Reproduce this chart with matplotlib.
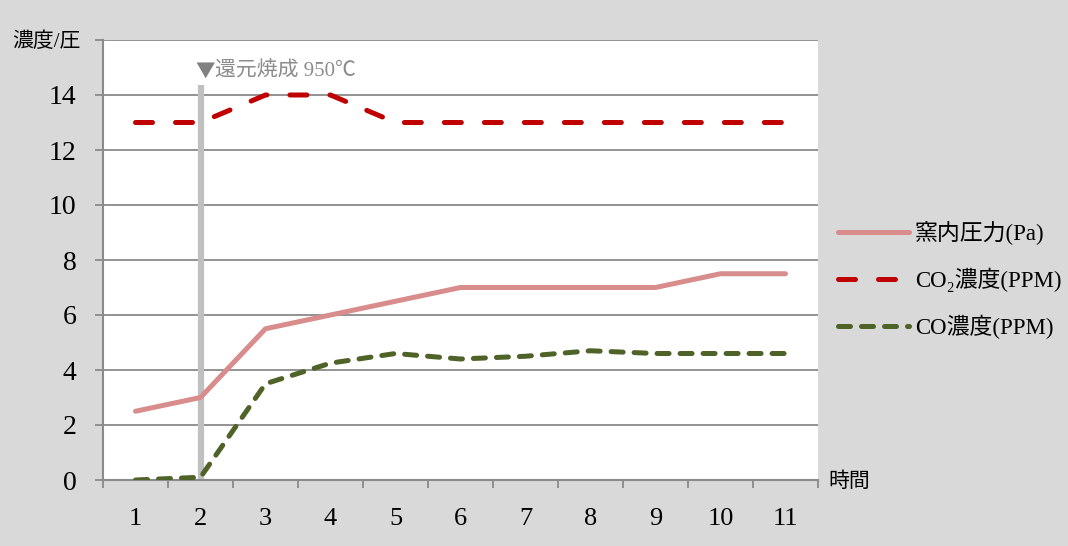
import matplotlib
matplotlib.use("Agg")
import matplotlib.pyplot as plt
from matplotlib.ticker import FixedLocator

# data
hours = [1, 2, 3, 4, 5, 6, 7, 8, 9, 10, 11]
kiln_pressure = [2.5, 3.0, 5.5, 6.0, 6.5, 7.0, 7.0, 7.0, 7.0, 7.5, 7.5]
co2_ppm = [13, 13, 14, 14, 13, 13, 13, 13, 13, 13, 13]
co_ppm = [0.0, 0.1, 3.5, 4.25, 4.6, 4.4, 4.5, 4.7, 4.6, 4.6, 4.6]
series_labels = ["窯内圧力(Pa)", "CO₂濃度(PPM)", "CO濃度(PPM)"]
y_ticks = [0, 2, 4, 6, 8, 10, 12, 14, 16]
y_tick_labels = ["0", "2", "4", "6", "8", "10", "12", "14", ""]
reduction_hour = 2
reduction_label = "還元焼成 950℃"

FONTS = ["Liberation Serif", "Noto Sans CJK JP", "DejaVu Sans"]
plt.rcParams["font.family"] = FONTS

W, H = 1068, 546
fig = plt.figure(figsize=(W / 100, H / 100), dpi=100)
fig.patch.set_facecolor("#d9d9d9")

left, right, top, bottom = 103, 818, 40, 480
ax = fig.add_axes([left / W, 1 - bottom / H, (right - left) / W, (bottom - top) / H])
ax.set_facecolor("white")

ax.set_xlim(0.5, 11.5)
ax.set_ylim(0, 16)

grid_c = "#8a8a8a"
ax.yaxis.set_major_locator(FixedLocator(y_ticks))
ax.set_yticklabels(y_tick_labels)
for y in y_ticks[1:]:
    ax.axhline(y, color=grid_c, lw=1.3, zorder=1)

ax.set_xticks(hours)
ax.set_xticklabels([str(h) for h in hours])
ax.xaxis.set_minor_locator(FixedLocator([h - 0.5 for h in hours] + [11.5]))

for s in ("top", "right"):
    ax.spines[s].set_visible(False)
for s in ("left", "bottom"):
    ax.spines[s].set_color(grid_c)
    ax.spines[s].set_linewidth(1.5)

ax.tick_params(axis="x", which="major", length=0, pad=20, labelsize=19, colors="black")
ax.tick_params(axis="x", which="minor", length=6, width=1.3, color=grid_c, direction="out")
ax.tick_params(axis="y", which="major", length=6, width=1.3, color=grid_c, pad=13,
               labelsize=20, labelcolor="black")

# reduction firing marker
ax.vlines(reduction_hour, 0, 14.35, color="#c0c0c0", lw=4.5, zorder=2)
ax.annotate("▼", xy=(reduction_hour, 14.85), xytext=(-4, 0),
            textcoords="offset points", ha="left", va="center",
            fontsize=14, color="#808080", family=["Noto Sans CJK JP"])
ax.annotate(reduction_label, xy=(reduction_hour, 14.85), xytext=(10.5, 0),
            textcoords="offset points", ha="left", va="center",
            fontsize=15, color="#8c8c8c")

l1, = ax.plot(hours, kiln_pressure, color="#d98c8c", lw=3.6,
              solid_capstyle="round", solid_joinstyle="round", zorder=3)
l2, = ax.plot(hours, co2_ppm, color="#c00000", lw=3.6,
              dashes=(3.4, 4.6), dash_capstyle="round", zorder=3)
l3, = ax.plot(hours, co_ppm, color="#4f6228", lw=3.6,
              dashes=(2.4, 2.2), dash_capstyle="round", zorder=4)

fig.text(12 / W, 1 - 42 / H, "濃度/圧", fontsize=15, ha="left", va="center")
fig.text(828 / W, 1 - 482 / H, "時間", fontsize=15, ha="left", va="center")

fig.legend([l1, l2, l3], series_labels, loc="center left",
           bbox_to_anchor=(838 / W, 1 - 280 / H), frameon=False,
           fontsize=16.5, handlelength=3.1, handletextpad=0.25,
           labelspacing=1.0, borderpad=0, borderaxespad=0)

fig.savefig("out.png", dpi=100, facecolor=fig.get_facecolor())
